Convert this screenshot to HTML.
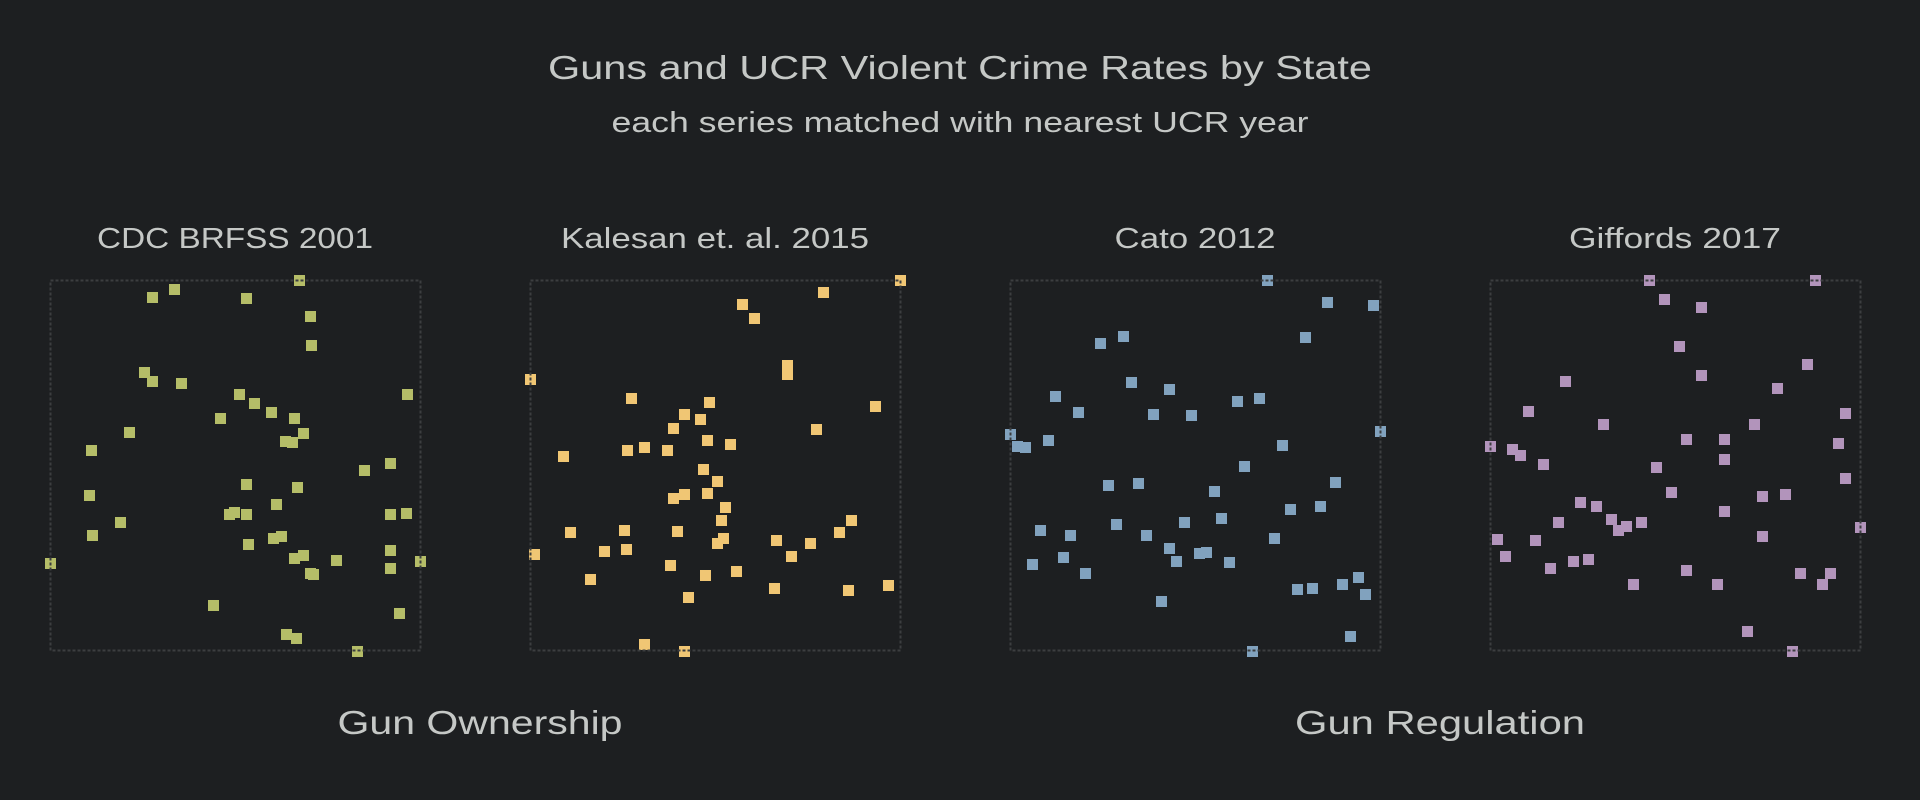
<!DOCTYPE html>
<html><head><meta charset="utf-8"><style>
html,body{margin:0;padding:0;background:#1d1f21;}
svg{display:block;}
text{font-family:"Liberation Sans",sans-serif;fill:#c5c8c6;text-anchor:middle;}
</style></head><body>
<svg id="s" width="1920" height="800" viewBox="0 0 1920 800" xmlns="http://www.w3.org/2000/svg">
<rect width="1920" height="800" fill="#1d1f21"/>
<text x="960" y="79" font-size="33" textLength="824" lengthAdjust="spacingAndGlyphs">Guns and UCR Violent Crime Rates by State</text>
<text x="960" y="132" font-size="29" textLength="697" lengthAdjust="spacingAndGlyphs">each series matched with nearest UCR year</text>
<text x="235" y="248" font-size="29" textLength="276" lengthAdjust="spacingAndGlyphs">CDC BRFSS 2001</text>
<text x="715" y="248" font-size="29" textLength="308" lengthAdjust="spacingAndGlyphs">Kalesan et. al. 2015</text>
<text x="1195" y="248" font-size="29" textLength="161" lengthAdjust="spacingAndGlyphs">Cato 2012</text>
<text x="1675" y="248" font-size="29" textLength="212" lengthAdjust="spacingAndGlyphs">Giffords 2017</text>
<text x="480" y="734" font-size="33" textLength="285" lengthAdjust="spacingAndGlyphs">Gun Ownership</text>
<text x="1440" y="734" font-size="33" textLength="290" lengthAdjust="spacingAndGlyphs">Gun Regulation</text>
<g id="g1" transform="translate(40,270) scale(0.33333)" fill="#b5bd68"></g>
<g id="g2" transform="translate(520,270) scale(0.33333)" fill="#f0c674"></g>
<g id="g3" transform="translate(1000,270) scale(0.33333)" fill="#81a2be"></g>
<g id="g4" transform="translate(1480,270) scale(0.33333)" fill="#b294bb"></g>
<g fill="none" stroke="#3c3e40" stroke-width="2" stroke-dasharray="3,2">
<rect x="50.5" y="280.5" width="370" height="370"/>
<rect x="530.5" y="280.5" width="370" height="370"/>
<rect x="1010.5" y="280.5" width="370" height="370"/>
<rect x="1490.5" y="280.5" width="370" height="370"/>
</g>
</svg>
<script>
var P=[
[762,15,387,42,321,66,603,69,795,123,798,210,297,291,321,318,408,324,582,357,1086,357,627,384,678,411,525,429,747,429,252,471,774,474,720,498,741,501,138,525,1035,564,957,585,603,627,756,636,132,660,693,687,567,711,552,717,603,717,1035,717,1083,714,225,741,141,780,708,783,684,789,609,807,774,840,747,849,873,855,1035,825,15,864,1125,858,795,894,804,897,1035,879,504,990,1062,1014,723,1077,753,1089,936,1128],
[1125,15,894,51,651,87,687,129,786,270,786,297,15,312,318,369,552,381,1050,393,477,417,525,432,444,459,873,462,546,495,615,507,306,525,357,516,426,525,114,543,534,582,576,618,477,657,444,669,546,654,600,696,588,735,978,735,135,771,297,765,456,768,942,771,594,789,576,804,753,795,855,804,237,828,303,822,27,837,798,843,435,870,195,912,540,900,633,888,747,939,969,945,1089,930,489,966,357,1107,477,1128],
[786,15,966,81,1104,90,285,204,354,183,900,186,378,321,492,342,150,363,696,378,762,369,219,411,444,417,558,420,15,477,1125,468,36,513,60,516,129,495,831,510,717,573,309,630,399,624,990,621,627,648,855,702,945,693,648,729,333,747,537,741,105,765,195,780,423,780,807,789,492,819,582,834,603,831,174,846,513,858,672,861,81,867,240,894,1059,906,1011,927,876,942,921,939,1080,957,468,978,1035,1083,741,1128],
[492,15,990,15,537,72,648,96,582,213,966,267,240,318,648,300,876,339,129,408,1080,414,354,447,807,447,603,492,717,492,15,513,81,522,105,540,1059,504,174,567,717,552,513,576,1080,609,558,651,831,663,900,657,285,681,333,693,717,708,378,732,219,741,468,741,423,753,399,765,1125,756,36,792,150,795,831,783,60,843,264,858,309,852,195,879,603,885,945,894,1035,894,1011,927,444,927,696,927,786,1068,921,1128]];
var ns="http://www.w3.org/2000/svg";
for(var k=0;k<4;k++){var g=document.getElementById("g"+(k+1));var a=P[k];
for(var i=0;i<a.length;i+=2){var r=document.createElementNS(ns,"rect");
r.setAttribute("x",a[i]);r.setAttribute("y",a[i+1]);r.setAttribute("width",33);r.setAttribute("height",33);g.appendChild(r);}}
</script>
</body></html>
